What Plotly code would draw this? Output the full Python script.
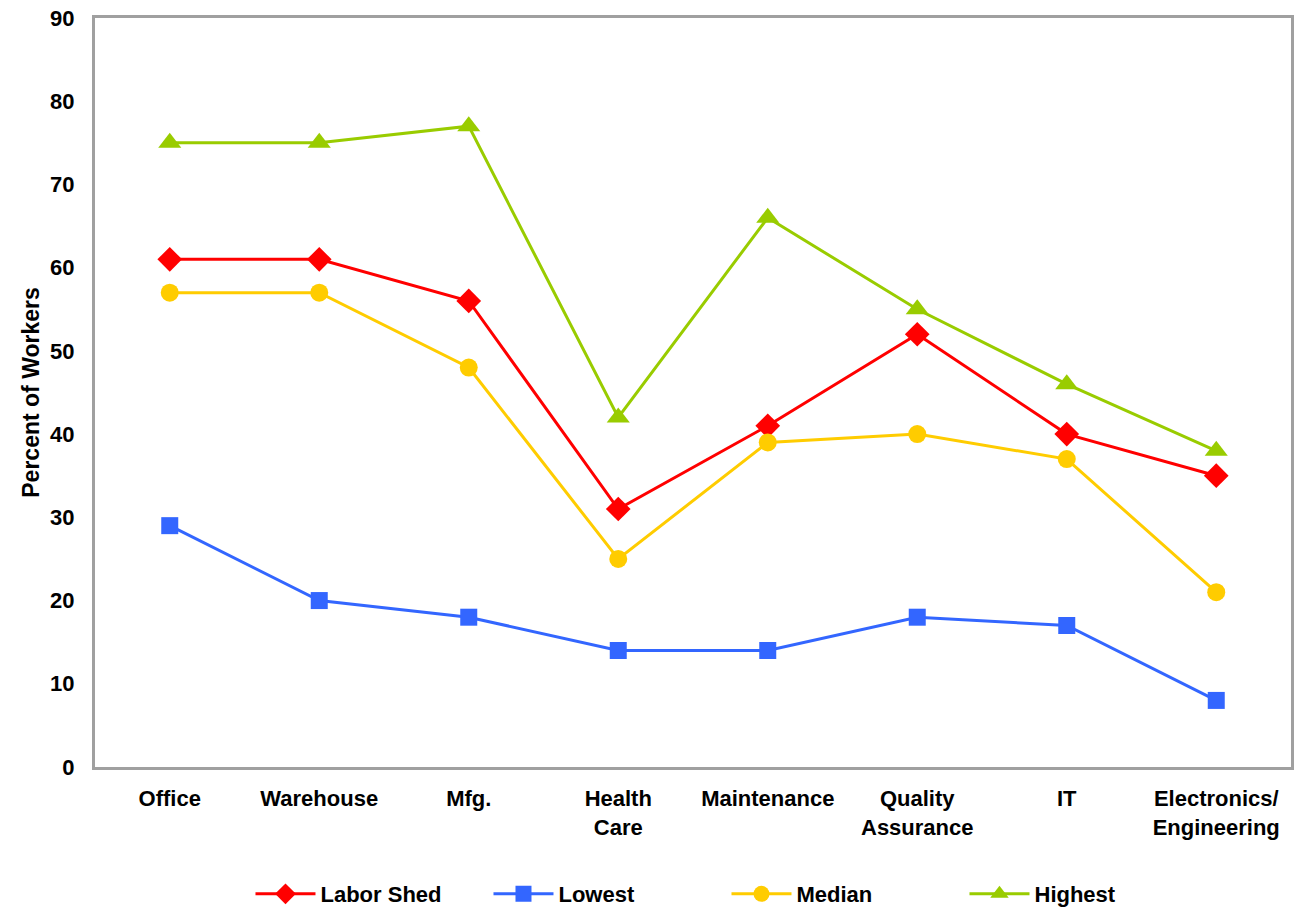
import plotly.graph_objects as go

categories = ["Office", "Warehouse", "Mfg.", "Health<br>Care", "Maintenance",
              "Quality<br>Assurance", "IT", "Electronics/<br>Engineering"]
labor_shed = [61, 61, 56, 31, 41, 52, 40, 35]
lowest = [29, 20, 18, 14, 14, 18, 17, 8]
median = [57, 57, 48, 25, 39, 40, 37, 21]
highest = [75, 75, 77, 42, 66, 55, 46, 38]

series = [
    ("Labor Shed", labor_shed, "#FF0000", "diamond", 19),
    ("Lowest", lowest, "#3366FF", "square", 17),
    ("Median", median, "#FFCC00", "circle", 18),
    ("Highest", highest, "#99CC00", "triangle-up", 20),
]

font = "Liberation Sans, Arial, sans-serif"
fig = go.Figure()
for name, vals, color, sym, size in series:
    fig.add_trace(go.Scatter(
        x=categories, y=vals, name=name, mode="lines+markers",
        line=dict(color=color, width=3),
        marker=dict(symbol=sym, size=size, color=color, line=dict(width=0)),
    ))

fig.update_layout(
    width=1299, height=910,
    paper_bgcolor="white", plot_bgcolor="white",
    margin=dict(l=95, r=8, t=18, b=143, autoexpand=False),
    font=dict(family=font, size=22, color="black"),
    showlegend=True,
    legend=dict(orientation="h", x=0.528, xanchor="center", y=-0.1415, yanchor="top",
                font=dict(family=font, size=22, color="black", weight="bold"),
                itemwidth=60, entrywidth=163, entrywidthmode="pixels"),
    xaxis=dict(showgrid=False, showline=True, linecolor="#A0A0A0", linewidth=3,
               mirror=True, ticks="", automargin=False,
               tickfont=dict(family=font, size=22, weight="bold"),
               ticklabelstandoff=10, range=[-0.5, 7.5]),
    yaxis=dict(showgrid=False, showline=True, linecolor="#A0A0A0", linewidth=3,
               mirror=True, ticks="", range=[0, 90], dtick=10, automargin=False,
               tickfont=dict(family=font, size=22, weight="bold"),
               ticklabelstandoff=13,
               title=dict(text="Percent of Workers",
                          font=dict(family=font, size=23, weight="bold"), standoff=5),
               zeroline=False),
)

fig.write_html("out.html", config={"displayModeBar": False},
               post_script="document.body.style.margin='0px';document.body.style.overflow='hidden';")
